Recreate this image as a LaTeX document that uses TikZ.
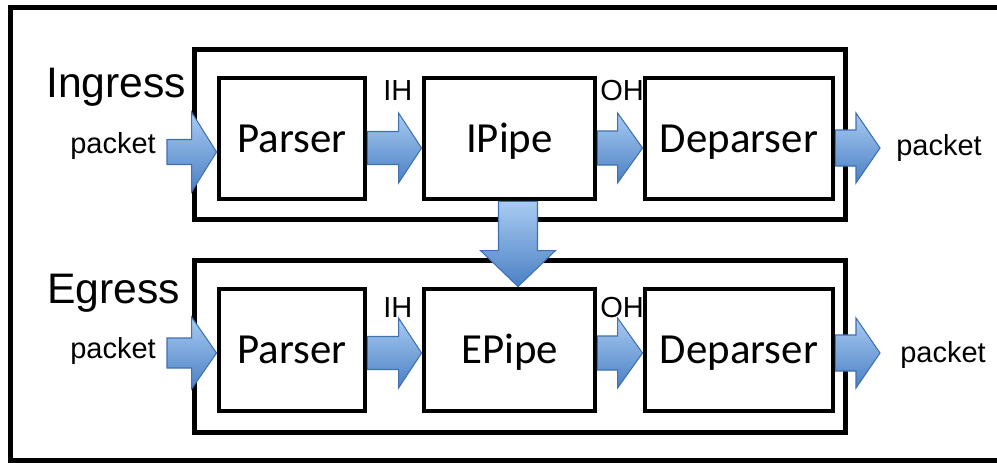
\documentclass[tikz,border=0pt]{standalone}
\usepackage{fontspec}
\setmainfont{Liberation Sans}
\newfontfamily\calfont{Carlito}
\usetikzlibrary{calc}
\definecolor{arrtop}{HTML}{A9CBF2}
\definecolor{arrbot}{HTML}{4A80C4}
\definecolor{arrline}{HTML}{3E70B2}
\newcommand\harr[5]{%
  \path[blockarrow] ($(#1)+(0,-#3)$) -- ($(#2)+(-#5,-#3)$) -- ($(#2)+(-#5,-#4)$) -- (#2)
    -- ($(#2)+(-#5,#4)$) -- ($(#2)+(-#5,#3)$) -- ($(#1)+(0,#3)$) -- cycle;}
\newcommand\varr[5]{%
  \path[blockarrow] ($(#1)+(-#3,0)$) -- ($(#2)+(-#3,-#5)$) -- ($(#2)+(-#4,-#5)$) -- (#2)
    -- ($(#2)+(#4,-#5)$) -- ($(#2)+(#3,-#5)$) -- ($(#1)+(#3,0)$) -- cycle;}
\begin{document}
\begin{tikzpicture}[x=0.02cm,y=-0.02cm,
  frame/.style={line width=2.4pt},
  groupbox/.style={draw,line width=2.6pt,rectangle,inner sep=0pt,minimum width=13.02cm},
  stagebox/.style={draw,line width=2.8pt,rectangle,inner sep=0pt,
    font=\calfont\fontsize{24.4}{28}\selectfont,text height=15.7pt,text depth=0pt},
  biglab/.style={font=\fontsize{24.3}{28}\selectfont,inner sep=0pt},
  pktlab/.style={font=\fontsize{16.5}{20}\selectfont,inner sep=0pt},
  hlab/.style={font=\fontsize{16.5}{19}\selectfont,inner sep=0pt},
  blockarrow/.style={draw=arrline,line width=0.6pt,top color=arrtop,bottom color=arrbot}]
\clip (0,0) rectangle (997,463);
\fill[white] (0,0) rectangle (997,463);
% outer frame (open to the right)
\draw[frame] (1010,7.5) -- (10.5,7.5) -- (10.5,460.5) -- (1010,460.5);
% group boxes
\node[groupbox,minimum height=3.4cm] (ingbox) at (520,134.5) {};
\node[groupbox,minimum height=3.44cm] (egbox) at (520,346.5) {};
% ingress stages
\node[stagebox,minimum width=2.92cm,minimum height=2.42cm] (pI) at (292,138.5) {Parser};
\node[stagebox,minimum width=3.42cm,minimum height=2.42cm] (iI) at (509.5,138.5) {IPipe};
\node[stagebox,minimum width=3.76cm,minimum height=2.42cm] (dI) at (739,138.5) {Deparser};
% egress stages
\node[stagebox,minimum width=2.92cm,minimum height=2.44cm] (pE) at (292,350) {Parser};
\node[stagebox,minimum width=3.42cm,minimum height=2.44cm] (eE) at (509.5,350) {EPipe};
\node[stagebox,minimum width=3.76cm,minimum height=2.44cm] (dE) at (739,350) {Deparser};
% labels
\node[biglab,anchor=base west] (ingl) at (46,97) {Ingress};
\node[biglab,anchor=base west] (egl) at (47,303) {Egress};
\node[pktlab,anchor=base west] (pin1) at (70,153) {packet};
\node[pktlab,anchor=base west] (pout1) at (896,155) {packet};
\node[pktlab,anchor=base west] (pin2) at (70,358) {packet};
\node[pktlab,anchor=base west] (pout2) at (900,362) {packet};
\node[hlab,anchor=base west] (ih1) at (383,100) {IH};
\node[hlab,anchor=base west] (oh1) at (600,100) {OH};
\node[hlab,anchor=base west] (ih2) at (383,317) {IH};
\node[hlab,anchor=base west] (oh2) at (600,317) {OH};
% arrow rows
\coordinate (rowA) at (0,152);
\coordinate (rowB) at (0,148);
\coordinate (rowE) at (0,353);
\coordinate (in1) at (167,152);
\coordinate (in2) at (167,353);
\coordinate (out1) at (880,148);
\coordinate (out2) at (880,353);
\coordinate (dcol) at (518,0);
% ingress arrows
\harr{in1}{pI.west |- rowA}{12.5}{40}{25}
\harr{pI.east |- rowB}{iI.west |- rowB}{16.5}{35}{23}
\harr{iI.east |- rowB}{dI.west |- rowB}{17}{35}{25}
\harr{dI.east |- rowB}{out1}{18}{35}{24}
% egress arrows
\harr{in2}{pE.west |- rowE}{15}{36}{25}
\harr{pE.east |- rowE}{eE.west |- rowE}{16.5}{35}{23}
\harr{eE.east |- rowE}{dE.west |- rowE}{17}{35}{25}
\harr{dE.east |- rowE}{out2}{18}{35}{24}
% ingress to egress
\varr{dcol |- iI.south}{dcol |- eE.north}{19.5}{37.5}{36}
\end{tikzpicture}
\end{document}
